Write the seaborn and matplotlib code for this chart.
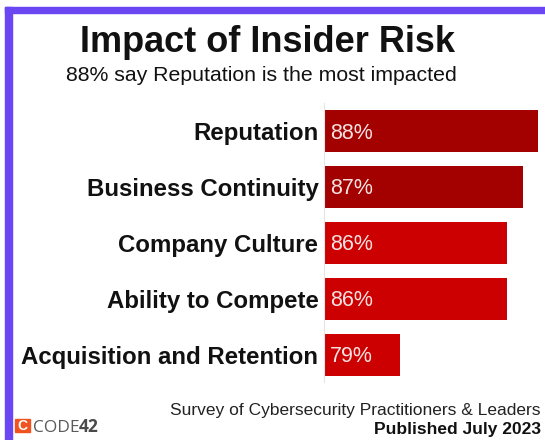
import matplotlib
matplotlib.use("Agg")
import matplotlib.pyplot as plt
from matplotlib.patches import Rectangle
import seaborn as sns

# Chart data
categories = ["Reputation", "Business Continuity", "Company Culture",
              "Ability to Compete", "Acquisition and Retention"]
values = [88, 87, 86, 86, 79]
bar_colors = ["#a30000", "#a30000", "#cc0000", "#cc0000", "#cc0000"]

sns.set_style("white")
plt.rcParams["font.family"] = ["Liberation Sans", "DejaVu Sans"]

fig = plt.figure(figsize=(5.45, 4.40), dpi=100)
ax = fig.add_axes([324 / 545, 1 - 382.5 / 440, (538 - 324) / 545, (382.5 - 103) / 440])

sns.barplot(x=values, y=categories, hue=categories, palette=bar_colors,
            legend=False, width=0.75, orient="h", ax=ax, linewidth=0,
            saturation=1)

ax.set_xlim(74, 88)
ax.set_ylim(4.5, -0.5)
ax.set_xlabel("")
ax.set_ylabel("")
ax.set_xticks([])
ax.tick_params(axis="y", length=0, pad=4)
for lbl in ax.get_yticklabels():
    lbl.set_fontsize(17.3)
    lbl.set_fontweight("bold")
    lbl.set_color("#111111")
for side in ["top", "right", "bottom"]:
    ax.spines[side].set_visible(False)
ax.spines["left"].set_color("#e4e4e4")
ax.spines["left"].set_linewidth(0.8)

# value labels inside the bars
for i, v in enumerate(values):
    ax.annotate(f"{v}%", xy=(74, i), xytext=(4.5, -1.5), textcoords="offset points",
                va="center", ha="left", fontsize=15.5, color="#f8e2e2")

# titles
fig.text(267 / 545, 1 - 52 / 440, "Impact of Insider Risk", ha="center",
         va="baseline", fontsize=26, fontweight="bold", color="#111111")
fig.text(261 / 545, 1 - 81 / 440, "88% say Reputation is the most impacted",
         ha="center", va="baseline", fontsize=15.3, color="#111111")

# footer
fig.text(541 / 545, 1 - 415 / 440, "Survey of Cybersecurity Practitioners & Leaders",
         ha="right", va="baseline", fontsize=12.5, color="#222222")
fig.text(541 / 545, 1 - 434 / 440, "Published July 2023",
         ha="right", va="baseline", fontsize=12.5, fontweight="bold", color="#111111")

# logo
fig.patches.append(Rectangle((15 / 545, 1 - 432 / 440), 15 / 545, 13 / 440,
                             transform=fig.transFigure, color="#f0531f", zorder=5))
fig.text(22.5 / 545, 1 - 425.5 / 440, "C", ha="center", va="center", fontsize=10,
         fontweight="bold", color="white", zorder=6)
fig.text(33 / 545, 1 - 432 / 440, "CODE", ha="left", va="baseline",
         fontsize=12.5, color="#5a5a5a", family=["Open Sans", "DejaVu Sans"])
fig.text(79 / 545, 1 - 432 / 440, "42", ha="left", va="baseline",
         fontsize=12.5, fontweight="bold", color="#4a4a4a", family=["Open Sans", "DejaVu Sans"])

# purple frame
frame = "#6a47f2"
fig.patches.append(Rectangle((5 / 545, 1 - 13 / 440), 540 / 545, 6 / 440,
                             transform=fig.transFigure, color=frame, zorder=10))
fig.patches.append(Rectangle((5 / 545, 0), 7 / 545, 1 - 7 / 440,
                             transform=fig.transFigure, color=frame, zorder=10))

fig.savefig("out.png", dpi=100, facecolor="white")
